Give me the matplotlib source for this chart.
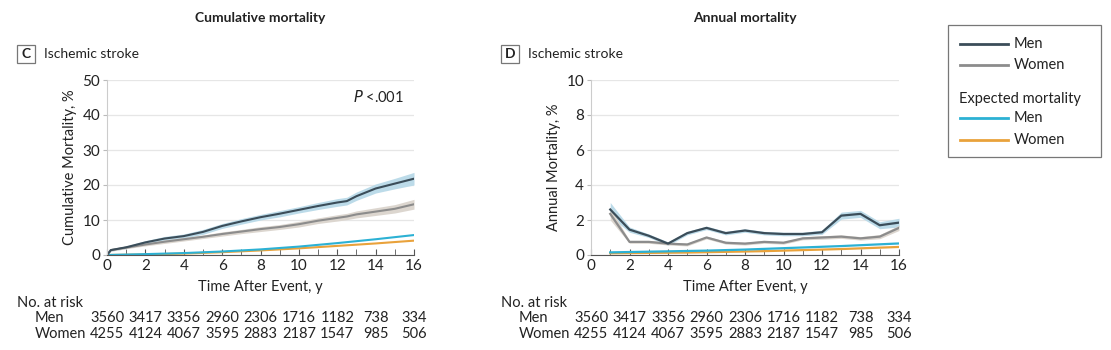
import numpy as np
import matplotlib
matplotlib.use('Agg')
import matplotlib.pyplot as plt
from matplotlib.patches import Rectangle

plt.rcParams['font.family'] = ['Lato', 'DejaVu Sans']

# cumulative mortality (panel C)
cum_years = [0, 0.2, 1, 2, 3, 4, 5, 6, 7, 8, 9, 10, 11, 12, 12.5, 13, 14, 15, 16]
cum_men = [0, 1.4, 2.2, 3.6, 4.7, 5.4, 6.6, 8.3, 9.6, 10.8, 11.8, 12.9, 14.0, 15.0, 15.4, 16.8, 19.0, 20.4, 21.8]
cum_men_ci = [0, 0.3, 0.4, 0.5, 0.6, 0.6, 0.7, 0.7, 0.8, 0.8, 0.9, 0.9, 1.0, 1.1, 1.1, 1.2, 1.3, 1.5, 1.8]
cum_women = [0, 1.4, 2.1, 3.0, 3.8, 4.5, 5.2, 6.0, 6.7, 7.4, 8.0, 8.8, 9.8, 10.6, 11.0, 11.6, 12.4, 13.2, 14.5]
cum_women_ci = [0, 0.3, 0.3, 0.4, 0.5, 0.5, 0.5, 0.6, 0.6, 0.7, 0.7, 0.8, 0.8, 0.9, 0.9, 1.0, 1.1, 1.2, 1.4]
exp_years = [0, 2, 4, 6, 8, 10, 12, 14, 16]
exp_cum_men = [0, 0.25, 0.55, 1.0, 1.6, 2.4, 3.4, 4.5, 5.7]
exp_cum_women = [0, 0.15, 0.4, 0.8, 1.3, 1.9, 2.6, 3.3, 4.1]

# annual mortality (panel D)
ann_years = list(range(1, 17))
ann_men = [2.6, 1.45, 1.1, 0.65, 1.25, 1.55, 1.25, 1.4, 1.25, 1.2, 1.2, 1.3, 2.25, 2.35, 1.7, 1.85]
ann_men_ci = [0.4, 0.15, 0.1, 0.1, 0.1, 0.1, 0.1, 0.1, 0.1, 0.1, 0.1, 0.12, 0.2, 0.2, 0.2, 0.25]
ann_women = [2.35, 0.75, 0.75, 0.65, 0.6, 1.0, 0.7, 0.65, 0.75, 0.7, 0.95, 1.0, 1.05, 0.95, 1.05, 1.55]
ann_women_ci = [0.35, 0.08, 0.08, 0.08, 0.08, 0.08, 0.08, 0.08, 0.08, 0.08, 0.08, 0.1, 0.1, 0.1, 0.12, 0.15]
exp_ann_men = [0.15, 0.17, 0.19, 0.21, 0.23, 0.25, 0.28, 0.31, 0.35, 0.39, 0.43, 0.47, 0.51, 0.56, 0.61, 0.66]
exp_ann_women = [0.1, 0.11, 0.12, 0.13, 0.14, 0.16, 0.18, 0.2, 0.22, 0.25, 0.28, 0.31, 0.34, 0.38, 0.42, 0.46]

risk_ticks = [0, 2, 4, 6, 8, 10, 12, 14, 16]
risk_men = [3560, 3417, 3356, 2960, 2306, 1716, 1182, 738, 334]
risk_women = [4255, 4124, 4067, 3595, 2883, 2187, 1547, 985, 506]

c_men = '#3b4d59'
c_women = '#8c8c8c'
c_exp_men = '#2cb1d4'
c_exp_women = '#e9a23b'
band_men = '#bcdbe9'
band_women = '#dcd6cf'
txt = '#222222'
fs = 10.5

fig = plt.figure(figsize=(11.11, 3.5), dpi=100)


def fy(y):
    # pixel row from the top -> figure fraction
    return 1 - y / 350


def style_axes(ax, ymax, ystep, ylabel):
    ax.set_xlim(0, 16)
    ax.set_ylim(0, ymax)
    ax.set_xticks(range(0, 17, 2))
    ax.set_xticks(range(0, 17), minor=True)
    ax.set_yticks(np.arange(0, ymax + 0.01, ystep))
    ax.grid(axis='y', color='#e6e6e6', lw=0.9)
    ax.set_axisbelow(True)
    for s in ['top', 'right']:
        ax.spines[s].set_visible(False)
    ax.spines['left'].set_color('#cccccc')
    ax.spines['bottom'].set_color('#555555')
    ax.tick_params(axis='x', which='both', direction='in', length=4, color='#555555',
                   labelsize=11, labelcolor=txt, pad=3)
    ax.tick_params(axis='y', direction='out', length=3, color='#bbbbbb',
                   labelsize=11, labelcolor=txt, pad=2)
    ax.set_xlabel('Time After Event, y', fontsize=10.5, color=txt, labelpad=5)
    ax.set_ylabel(ylabel, fontsize=10.5, color=txt, labelpad=4)


def risk_table(ax, x_name):
    fig.text(x_name - 18 / 1111, fy(303), 'No. at risk', fontsize=fs, color=txt,
             va='center', ha='left')
    fig.text(x_name, fy(318), 'Men', fontsize=fs, color=txt, va='center', ha='left')
    fig.text(x_name, fy(334), 'Women', fontsize=fs, color=txt, va='center', ha='left')
    trans = matplotlib.transforms.blended_transform_factory(ax.transData, fig.transFigure)
    for t, m, w in zip(risk_ticks, risk_men, risk_women):
        ax.text(t, fy(318), str(m), transform=trans, ha='center', va='center',
                fontsize=10.5, color=txt)
        ax.text(t, fy(334), str(w), transform=trans, ha='center', va='center',
                fontsize=10.5, color=txt)


def panel_label(x_box, letter):
    fig.patches.append(Rectangle((x_box / 1111, fy(63)), 18 / 1111, 18 / 350,
                                 transform=fig.transFigure, fill=False,
                                 edgecolor='#777777', lw=0.9))
    fig.text((x_box + 9) / 1111, fy(54), letter, ha='center', va='center',
             fontsize=10, fontweight='bold', color=txt)
    fig.text((x_box + 27) / 1111, fy(54), 'Ischemic stroke', ha='left', va='center',
             fontsize=10, color=txt)


# panel C
axc = fig.add_axes([107 / 1111, 95 / 350, 307 / 1111, 175 / 350])
style_axes(axc, 50, 10, 'Cumulative Mortality, %')
lo = np.array(cum_men) - np.array(cum_men_ci)
hi = np.array(cum_men) + np.array(cum_men_ci)
axc.fill_between(cum_years, lo, hi, color=band_men, lw=0)
lo = np.array(cum_women) - np.array(cum_women_ci)
hi = np.array(cum_women) + np.array(cum_women_ci)
axc.fill_between(cum_years, lo, hi, color=band_women, lw=0)
axc.plot(exp_years, exp_cum_women, color=c_exp_women, lw=1.5)
axc.plot(exp_years, exp_cum_men, color=c_exp_men, lw=1.5)
axc.plot(cum_years, cum_women, color=c_women, lw=1.5)
axc.plot(cum_years, cum_men, color=c_men, lw=1.5)
axc.text(15.5, 45, r'$\it{P}$ <.001', ha='right', va='center', fontsize=fs, color=txt)
fig.text(260 / 1111, fy(18), 'Cumulative mortality', ha='center', va='center',
         fontsize=10, fontweight='bold', color=txt)
panel_label(17, 'C')
risk_table(axc, 35 / 1111)

# panel D
axd = fig.add_axes([591 / 1111, 95 / 350, 308 / 1111, 175 / 350])
style_axes(axd, 10, 2, 'Annual Mortality, %')
lo = np.array(ann_men) - np.array(ann_men_ci)
hi = np.array(ann_men) + np.array(ann_men_ci)
axd.fill_between(ann_years, lo, hi, color=band_men, lw=0)
lo = np.array(ann_women) - np.array(ann_women_ci)
hi = np.array(ann_women) + np.array(ann_women_ci)
axd.fill_between(ann_years, lo, hi, color=band_women, lw=0)
axd.plot(ann_years, exp_ann_women, color=c_exp_women, lw=1.6)
axd.plot(ann_years, exp_ann_men, color=c_exp_men, lw=1.6)
axd.plot(ann_years, ann_women, color=c_women, lw=1.6)
axd.plot(ann_years, ann_men, color=c_men, lw=1.6)
fig.text(745 / 1111, fy(18), 'Annual mortality', ha='center', va='center',
         fontsize=10, fontweight='bold', color=txt)
panel_label(501, 'D')
risk_table(axd, 519 / 1111)

# legend box
fig.patches.append(Rectangle((948 / 1111, fy(157)), 153 / 1111, 132 / 350,
                             transform=fig.transFigure, fill=False,
                             edgecolor='#777777', lw=0.9))
leg_items = [(44, c_men, 'Men'), (65, c_women, 'Women'),
             (118, c_exp_men, 'Men'), (140, c_exp_women, 'Women')]
for y, c, lab in leg_items:
    fig.lines.append(plt.Line2D([960 / 1111, 1008 / 1111], [fy(y), fy(y)],
                                transform=fig.transFigure, color=c, lw=2))
    fig.text(1014 / 1111, fy(y), lab, ha='left', va='center', fontsize=fs, color=txt)
fig.text(959 / 1111, fy(99), 'Expected mortality', ha='left', va='center',
         fontsize=fs, color=txt)

fig.savefig('out.png', dpi=100, facecolor='white')
